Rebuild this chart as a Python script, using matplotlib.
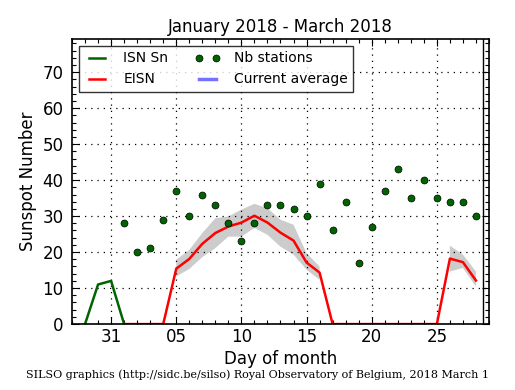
import numpy as np
import matplotlib
matplotlib.use("Agg")
import matplotlib.pyplot as plt
from matplotlib.ticker import FixedLocator, MultipleLocator

# day index: 0 = 31 January, 1..28 = February
isn_days = [-2, -1, 0, 1]
isn_vals = [0, 11, 12, 0]

eisn_days = list(range(1, 29))
eisn_vals = [0, 0, 0, 0, 15.4, 18.1, 22.3, 25.3, 27.1, 28.2, 30.1, 28.2, 25.4, 23.2,
             17.1, 14.3, 0, 0, 0, 0, 0, 0, 0, 0, 0, 18.2, 17.2, 12.1]
band_lo = [np.nan] * 4 + [13.2, 15.3, 18.6, 21.1, 24.3, 24.3, 26.7, 24.8, 21.5, 19.3,
                          15.1, 12.3] + [np.nan] * 9 + [14.6, 15.6, 10.4]
band_hi = [np.nan] * 4 + [17.9, 20.6, 25.3, 29.4, 29.9, 31.8, 33.4, 32.2, 29.0, 27.6,
                          19.7, 16.0] + [np.nan] * 9 + [21.8, 19.3, 14.6]

stations = [28, 20, 21, 29, 37, 30, 36, 33, 28, 23, 28, 33, 33, 32,
            30, 39, 26, 34, 17, 27, 37, 43, 35, 40, 35, 34, 34, 30]

tick_pos = [0, 5, 10, 15, 20, 25]
tick_lab = ["31", "05", "10", "15", "20", "25"]

fig = plt.figure(figsize=(5.15, 3.9), dpi=100)
ax = fig.add_axes([0.1398, 0.169, 0.8097, 0.731])

##### band + lines #####
ax.fill_between(eisn_days, band_lo, band_hi, color="0.8", lw=0)
ax.plot(isn_days, isn_vals, color="#006400", lw=1.8, label="ISN Sn")
ax.plot(eisn_days, eisn_vals, color="red", lw=1.8, label="EISN")
ax.plot(eisn_days, stations, "o", color="#006400", mec="black", mew=0.5, ms=5,
        label="Nb stations")
ax.plot([], [], color="blue", alpha=0.55, lw=2.5, label="Current average")
ax.axvline(28.55, color="black", lw=1)

##### axes #####
ax.set_xlim(-3, 29)
ax.set_ylim(0, 79.2)
ax.xaxis.set_major_locator(FixedLocator(tick_pos))
ax.set_xticklabels(tick_lab)
ax.xaxis.set_minor_locator(MultipleLocator(1))
ax.yaxis.set_major_locator(MultipleLocator(10))
ax.yaxis.set_minor_locator(MultipleLocator(2))
ax.tick_params(which="both", direction="in", top=True, right=True, labelsize=12)
ax.tick_params(which="major", length=5, width=0.8)
ax.tick_params(which="minor", length=3, width=0.8)
ax.tick_params(axis="x", pad=3)
ax.tick_params(axis="y", pad=6)
ax.grid(True, which="major", color="black", ls=(0, (1, 4)), lw=0.9)
for s in ax.spines.values():
    s.set_linewidth(1.2)

ax.set_title("January 2018 - March 2018", fontsize=12, pad=5)
ax.set_xlabel("Day of month", fontsize=12, labelpad=3)
ax.set_ylabel("Sunspot Number", fontsize=12)

leg = ax.legend(loc="upper left", ncol=2, numpoints=2, fontsize=10, fancybox=False,
                borderaxespad=0.5, handlelength=1.8, handletextpad=1.0,
                columnspacing=1.9)
leg.get_frame().set_edgecolor("black")
leg.get_frame().set_linewidth(1.0)

fig.text(0.5, 0.025, "SILSO graphics (http://sidc.be/silso) Royal Observatory of Belgium, 2018 March 1",
         ha="center", va="bottom", fontsize=8, family="DejaVu Serif")

fig.savefig("out.png", dpi=100, facecolor="white")
